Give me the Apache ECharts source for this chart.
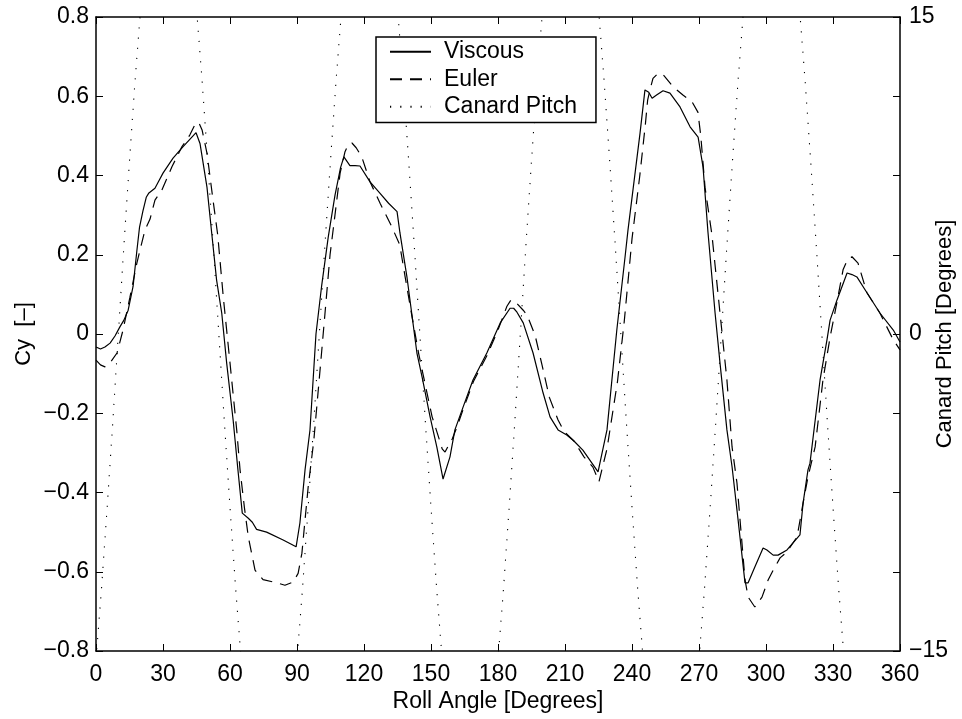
<!DOCTYPE html>
<html>
<head>
<meta charset="utf-8">
<script src="https://cdn.jsdelivr.net/npm/echarts@6/dist/echarts.min.js"></script>
<style>
  html, body { margin: 0; padding: 0; background: #fff; }
  #chart { width: 962px; height: 719px; }
</style>
</head>
<body>
<div id="chart"></div>
<script>
// Side force coefficient Cy versus roll angle, [roll deg, Cy]
const viscous = [
  [0, -0.033], [2, -0.038], [4, -0.033], [6.3, -0.023], [8.5, -0.005], [10.7, 0.018],
  [12.5, 0.035], [14.4, 0.06], [16.6, 0.12], [18.3, 0.21], [19.5, 0.27], [21, 0.31],
  [22.5, 0.345], [23.7, 0.356], [26.4, 0.368], [28, 0.385], [30, 0.406], [34.5, 0.444],
  [39, 0.473], [44.8, 0.508], [45.3, 0.512], [46.6, 0.48], [49.7, 0.37], [51.9, 0.25],
  [54, 0.136], [56.3, 0.053], [58.5, -0.073], [61.4, -0.217], [63.5, -0.34], [65.5, -0.452],
  [68.2, -0.465], [70, -0.475], [71.9, -0.493], [76.4, -0.5], [83.8, -0.52], [89.6, -0.537],
  [91.3, -0.477], [93.6, -0.343], [95.8, -0.243], [98.5, 0.0], [101, 0.12], [104, 0.245],
  [107, 0.35], [109.5, 0.42], [111, 0.447], [113.7, 0.425], [116, 0.425], [118.2, 0.424],
  [122.7, 0.384], [127.2, 0.355], [131, 0.33], [134.8, 0.309], [136.1, 0.255], [139.2, 0.145],
  [143.7, -0.048], [146, -0.108], [149.6, -0.209], [152.6, -0.285], [155.4, -0.366], [158.5, -0.31],
  [160.7, -0.242], [164.4, -0.184], [168.8, -0.116], [175, -0.048], [181, 0.028], [185.4, 0.065],
  [187, 0.065], [188.5, 0.055], [191.3, 0.028], [195.7, -0.048], [200.2, -0.149], [203.3, -0.209],
  [206.9, -0.242], [210.8, -0.255], [214, -0.27], [218, -0.293], [224.8, -0.348], [228.8, -0.242],
  [233.2, 0.01], [236.9, 0.195], [238.2, 0.262], [243.6, 0.507], [245.8, 0.616], [247.5, 0.61],
  [249, 0.595], [251, 0.603], [253.9, 0.614], [257, 0.608], [261.5, 0.573], [266, 0.523],
  [269.6, 0.497], [271.8, 0.422], [274, 0.258], [277.2, 0.053], [279.4, -0.073], [282.5, -0.242],
  [284.8, -0.335], [287.5, -0.469], [290.6, -0.628], [292, -0.628], [295, -0.588], [298.7, -0.54],
  [300.4, -0.545], [303.2, -0.558], [305.4, -0.558], [309.4, -0.545], [312.1, -0.527], [315.2, -0.507],
  [316.6, -0.427], [318.8, -0.343], [319.7, -0.326], [324.2, -0.116], [327.3, -0.015], [328.7, 0.035],
  [331.8, 0.086], [336.3, 0.154], [338.5, 0.15], [340.7, 0.144], [345.2, 0.104], [351, 0.053],
  [357, 0.01], [360, -0.02]
];

const euler = [
  [0, -0.066], [2, -0.078], [4, -0.083], [6.3, -0.073], [9.4, -0.048], [12.1, 0.01],
  [15.2, 0.093], [18.3, 0.179], [21.9, 0.262], [24.2, 0.29], [26.4, 0.338], [29.5, 0.363],
  [34, 0.422], [38.5, 0.473], [42, 0.502], [44, 0.525], [45.2, 0.535], [46.3, 0.53],
  [47.5, 0.515], [49.7, 0.456], [52.4, 0.338], [54.5, 0.25], [57, 0.093], [60, -0.073],
  [63, -0.242], [64.5, -0.343], [66.5, -0.44], [68.2, -0.512], [71.2, -0.596], [74.8, -0.62],
  [81, -0.628], [84.6, -0.634], [88.3, -0.626], [90.5, -0.604], [92.2, -0.553], [93.6, -0.469],
  [95, -0.386], [97.5, -0.27], [100.6, -0.073], [102.5, 0.05], [104.8, 0.2], [107, 0.3],
  [109.3, 0.406], [111.5, 0.46], [113, 0.478], [114.6, 0.482], [116.5, 0.47], [119, 0.447],
  [122.7, 0.384], [127.2, 0.33], [132.5, 0.27], [136, 0.225], [138.4, 0.145], [141, 0.06],
  [144.5, -0.05], [147.5, -0.13], [150.5, -0.209], [153.5, -0.262], [155, -0.29], [156.3, -0.298],
  [157.5, -0.285], [159.5, -0.265], [161.6, -0.235], [164.4, -0.19], [169, -0.12], [175, -0.055],
  [180, 0.01], [184, 0.07], [185.8, 0.086], [188, 0.08], [191.3, 0.06], [193, 0.048],
  [196.6, -0.003], [199.7, -0.078], [203, -0.16], [206.9, -0.217], [209.5, -0.245], [214, -0.27],
  [218.5, -0.31], [222.5, -0.336], [225.2, -0.373], [228.8, -0.29], [233.5, -0.12], [236.5, 0.03],
  [240, 0.24], [243.5, 0.4], [246, 0.53], [247, 0.59], [248, 0.615], [249.4, 0.645],
  [251.7, 0.658], [254, 0.654], [258.4, 0.624], [262.8, 0.603], [266.9, 0.586], [269.5, 0.56],
  [270.8, 0.5], [272.7, 0.37], [275.8, 0.25], [279.4, 0.053], [282.5, -0.116], [284.8, -0.285],
  [287, -0.376], [290.6, -0.62], [292, -0.664], [295, -0.689], [298.2, -0.664], [301, -0.62],
  [303.2, -0.596], [306.3, -0.565], [309.4, -0.55], [313.9, -0.512], [316.6, -0.427], [318.8, -0.361],
  [322, -0.285], [325.5, -0.116], [328.7, -0.008], [332.2, 0.093], [334.5, 0.162], [336.5, 0.188],
  [338.5, 0.195], [341.2, 0.179], [345.2, 0.104], [351, 0.053], [357, -0.015], [360, -0.04]
];

// Canard pitch [deg] versus roll angle; the parts beyond +/-15 deg fall outside the frame
const canardPitch = [
  [0, -15.4], [2.5, -12.0], [5, -8.2], [7.5, -4.2], [10, 0], [12.5, 4.2], [15, 8.2], [17.5, 12.0], [20, 15.4], [22.5, 18.4],
  [42.5, 18.4], [45, 15.4], [47.5, 12.0], [50, 8.2], [52.5, 4.2], [55, 0], [57.5, -4.2], [60, -8.2], [62.5, -12.0], [65, -15.4], [67.5, -18.4],
  [87.5, -18.4], [90, -15.4], [92.5, -12.0], [95, -8.2], [97.5, -4.2], [100, 0], [102.5, 4.2], [105, 8.2], [107.5, 12.0], [110, 15.4], [112.5, 18.4],
  [132.5, 18.4], [135, 15.4], [137.5, 12.0], [140, 8.2], [142.5, 4.2], [145, 0], [147.5, -4.2], [150, -8.2], [152.5, -12.0], [155, -15.4], [157.5, -18.4],
  [177.5, -18.4], [180, -15.4], [182.5, -12.0], [185, -8.2], [187.5, -4.2], [190, 0], [192.5, 4.2], [195, 8.2], [197.5, 12.0], [200, 15.4], [202.5, 18.4],
  [222.5, 18.4], [225, 15.4], [227.5, 12.0], [230, 8.2], [232.5, 4.2], [235, 0], [237.5, -4.2], [240, -8.2], [242.5, -12.0], [245, -15.4], [247.5, -18.4],
  [267.5, -18.4], [270, -15.4], [272.5, -12.0], [275, -8.2], [277.5, -4.2], [280, 0], [282.5, 4.2], [285, 8.2], [287.5, 12.0], [290, 15.4], [292.5, 18.4],
  [312.5, 18.4], [315, 15.4], [317.5, 12.0], [320, 8.2], [322.5, 4.2], [325, 0], [327.5, -4.2], [330, -8.2], [332.5, -12.0], [335, -15.4], [337.5, -18.4]
];

// Axis ranges: [min, max, step]
const rollAxis = [0, 360, 30];
const cyAxis = [-0.8, 0.8, 0.2];
const pitchAxis = [-15, 15, 3.75];
const pitchLabels = [-15, 0, 15];

const FONT = '"Liberation Sans", Arial, Helvetica, sans-serif';
const minus = s => s.replace('-', '\u2212');

const lineAxis = { show: true, onZero: false, lineStyle: { color: '#000', width: 1.5 } };
const tickIn = { show: true, inside: true, length: 7, lineStyle: { color: '#000', width: 1 } };
const labelStyle = { color: '#000', fontSize: 23, fontFamily: FONT };

const chart = echarts.init(document.getElementById('chart'), null, { renderer: 'canvas' });
chart.setOption({
  animation: false,
  backgroundColor: '#fff',
  grid: { left: 96, right: 62, top: 17, bottom: 68, containLabel: false, outerBoundsMode: 'none' },
  legend: {
    data: ['Viscous', 'Euler', 'Canard Pitch'],
    orient: 'vertical',
    left: 376, top: 37,
    padding: [1, 19, 2, 13],
    itemWidth: 41, itemHeight: 14, itemGap: 0,
    borderColor: '#000', borderWidth: 1.5, backgroundColor: '#fff',
    selectedMode: false,
    itemStyle: { opacity: 0 },
    lineStyle: { opacity: 1 },
    textStyle: { color: '#000', fontSize: 23, fontFamily: FONT, lineHeight: 27.5, padding: [0, 0, 0, 8] }
  },
  xAxis: [
    {
      type: 'value', min: rollAxis[0], max: rollAxis[1], interval: rollAxis[2], position: 'bottom',
      axisLine: lineAxis, axisTick: tickIn, splitLine: { show: false },
      axisLabel: Object.assign({ margin: 12 }, labelStyle),
      name: 'Roll Angle [Degrees]', nameLocation: 'middle', nameGap: 39, nameMoveOverlap: false,
      nameTextStyle: { color: '#000', fontSize: 23, fontFamily: FONT }
    },
    {
      type: 'value', min: rollAxis[0], max: rollAxis[1], interval: rollAxis[2], position: 'top',
      axisLine: lineAxis, axisTick: tickIn, splitLine: { show: false }, axisLabel: { show: false }
    }
  ],
  yAxis: [
    {
      type: 'value', min: cyAxis[0], max: cyAxis[1], interval: cyAxis[2], position: 'left',
      axisLine: lineAxis, axisTick: tickIn, splitLine: { show: false },
      axisLabel: Object.assign({
        margin: 7,
        formatter: v => Math.abs(v) < 1e-9 ? '0' : minus(v.toFixed(1))
      }, labelStyle),
      name: 'Cy  [\u2013]', nameLocation: 'middle', nameRotate: 90, nameGap: 61, nameMoveOverlap: false,
      nameTextStyle: { color: '#000', fontSize: 22, fontFamily: FONT }
    },
    {
      type: 'value', min: pitchAxis[0], max: pitchAxis[1], interval: pitchAxis[2], position: 'right',
      axisLine: lineAxis, axisTick: tickIn, splitLine: { show: false },
      axisLabel: Object.assign({
        margin: 9,
        formatter: v => pitchLabels.some(p => Math.abs(p - v) < 1e-9) ? minus(String(Math.round(v))) : ''
      }, labelStyle),
      name: 'Canard Pitch [Degrees]', nameLocation: 'middle', nameRotate: 90, nameGap: 34, nameMoveOverlap: false,
      nameTextStyle: { color: '#000', fontSize: 22, fontFamily: FONT }
    }
  ],
  series: [
    {
      name: 'Viscous', type: 'line', xAxisIndex: 0, yAxisIndex: 0, data: viscous,
      symbol: 'none', clip: true, itemStyle: { color: '#000' },
      lineStyle: { color: '#000', width: 1.2, type: 'solid' }
    },
    {
      name: 'Euler', type: 'line', xAxisIndex: 0, yAxisIndex: 0, data: euler,
      symbol: 'none', clip: true, itemStyle: { color: '#000' },
      lineStyle: { color: '#000', width: 1.2, type: [12, 8] }
    },
    {
      name: 'Canard Pitch', type: 'line', xAxisIndex: 0, yAxisIndex: 1, data: canardPitch,
      symbol: 'none', clip: true, itemStyle: { color: '#000' },
      lineStyle: { color: '#000', width: 1.1, type: [1.2, 9] }
    }
  ]
});
</script>
</body>
</html>
